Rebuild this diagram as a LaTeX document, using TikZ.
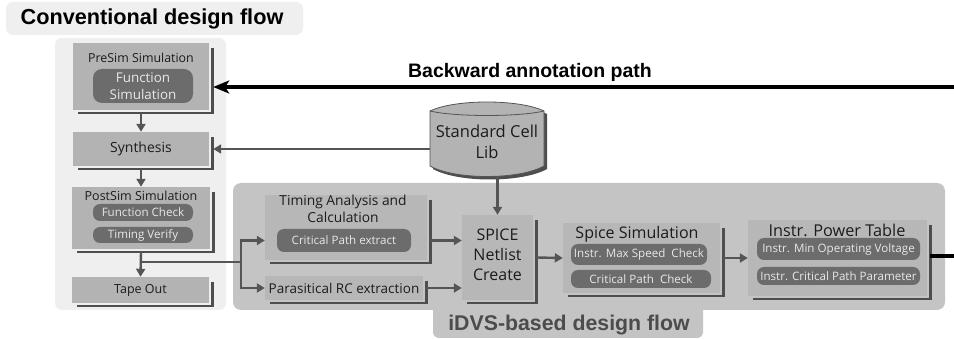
\documentclass[tikz,border=0pt]{standalone}
\usepackage{fontspec}
\setmainfont{Open Sans}
\newfontfamily\headfont{Liberation Sans}
\usetikzlibrary{arrows.meta}

\definecolor{panelA}{HTML}{EFEFEF}
\definecolor{panelB}{HTML}{C4C4C4}
\definecolor{boxA}{HTML}{B3B3B3}
\definecolor{boxB}{HTML}{B7B7B7}
\definecolor{pillgray}{HTML}{6C6C6C}
\definecolor{pilltext}{HTML}{E8E8E8}
\definecolor{shadegray}{HTML}{4E4E4E}
\definecolor{arrgray}{HTML}{555555}
\definecolor{labtext}{HTML}{1C1C1C}
\definecolor{tabtext}{HTML}{4C4C4C}

\newcommand\fsz[2]{\fontsize{#1}{#2}\selectfont}
% dark L-shaped edge along the right and bottom of a box
\newcommand\dropshade[1]{\draw[shadeline] ([xshift=3pt,yshift=-5pt]#1.north east) -- ([xshift=3pt,yshift=-3pt]#1.south east) -- ([xshift=5pt,yshift=-3pt]#1.south west);}

\tikzset{
  shadeline/.style={draw=shadegray, line width=2.6pt},
  cbox/.style={fill=boxA, draw=none, inner sep=0pt},
  ibox/.style={fill=boxB, draw=none, inner sep=0pt},
  pill/.style={fill=pillgray, text=pilltext, rounded corners=7pt, inner sep=0pt, font=\fsz{11.6}{14}},
  lab/.style={text=labtext, inner sep=0pt, align=center},
  arr/.style={draw=arrgray, line width=2.4pt, -{Triangle[length=8pt,width=9pt]}},
  plain/.style={draw=arrgray, line width=2.4pt},
  backarr/.style={draw=black, line width=3.4pt, -{Stealth[length=16pt,width=13pt,inset=4pt]}},
}

\begin{document}
\begin{tikzpicture}[x=1pt,y=-1pt]
\fill[white] (0,0) rectangle (954,339);
\useasboundingbox (0,0) rectangle (954,339);

% ---------- backgrounds ----------
\fill[panelA, rounded corners=7pt] (6,2) rectangle (303,35);
\node[inner sep=0pt, font=\headfont\bfseries\fsz{21.7}{24}] (convtitle) at (152,19) {Conventional design flow};
\fill[panelA, rounded corners=7pt] (55,38) rectangle (226,310);

\fill[panelB, rounded corners=8pt] (233,183) rectangle (945,310);
\fill[panelB, rounded corners=6pt] (433,300) rectangle (703,338);
\node[inner sep=0pt, text=tabtext, font=\headfont\bfseries\fsz{21.3}{24}] (idvstitle) at (569,325) {iDVS-based design flow};

% ---------- conventional flow ----------
\node[cbox, minimum width=136pt, minimum height=67pt] (presim) at (141,76.5) {};
\dropshade{presim}
\node[lab, font=\fsz{12.4}{15}] (presimt) at (141,58) {PreSim Simulation};
\node[pill, rounded corners=9pt, minimum width=100pt, minimum height=34pt, align=center, font=\fsz{13.4}{17}] (fsim) at (143,86) {Function\\Simulation};

\node[cbox, minimum width=136pt, minimum height=34pt] (syn) at (141,149) {};
\dropshade{syn}
\node[lab, font=\fsz{14}{16}] (synt) at (141,149) {Synthesis};

\node[cbox, minimum width=138pt, minimum height=62pt] (postsim) at (141,218) {};
\dropshade{postsim}
\node[lab, font=\fsz{12.5}{15}] (postsimt) at (141,196) {PostSim Simulation};
\node[pill, minimum width=100pt, minimum height=17pt] (fcheck) at (143,212.5) {Function Check};
\node[pill, minimum width=100pt, minimum height=16pt] (tverify) at (143,235) {Timing Verify};

\node[cbox, minimum width=137pt, minimum height=26pt] (tape) at (140.5,290) {};
\dropshade{tape}
\node[lab, font=\fsz{12.5}{15}] (tapet) at (140.5,290) {Tape Out};

% ---------- standard cell library ----------
\path[fill=shadegray] (433,114) .. controls (458,102) and (522,102) .. (547,114) -- (547,169) .. controls (522,183) and (458,183) .. (433,169) -- cycle;
\path[fill=boxA, draw=arrgray, line width=0.8pt] (430,111) .. controls (455,99) and (519,99) .. (544,111) -- (544,166) .. controls (519,180) and (455,180) .. (430,166) -- cycle;
\draw[arrgray, line width=0.8pt] (430,111) .. controls (455,117) and (519,117) .. (544,111);
\node[lab, minimum width=114pt, minimum height=68pt, font=\fsz{16.5}{21}] (lib) at (487,142) {Standard Cell\\Lib};

% ---------- iDVS flow ----------
\node[ibox, minimum width=162pt, minimum height=65pt] (timing) at (346,227.5) {};
\dropshade{timing}
\node[lab, font=\fsz{13.8}{17}] (timingt) at (343,209) {Timing Analysis and\\Calculation};
\node[pill, minimum width=134pt, minimum height=23pt] (cpe) at (344,240.5) {Critical Path extract};

\node[ibox, minimum width=158pt, minimum height=24pt] (para) at (344,288) {};
\dropshade{para}
\node[lab, font=\fsz{13.5}{16}] (parat) at (344,288) {Parasitical RC extraction};

\node[ibox, minimum width=71pt, minimum height=85pt] (spice) at (497.5,257.5) {};
\dropshade{spice}
\node[lab, font=\fsz{16}{20}] (spicet) at (497.5,255) {SPICE\\Netlist\\Create};

\node[ibox, minimum width=157pt, minimum height=70pt] (spsim) at (641.5,258) {};
\dropshade{spsim}
\node[lab, font=\fsz{16}{19}] (spsimt) at (637,234) {Spice Simulation};
\node[pill, minimum width=136pt, minimum height=21pt] (ims) at (639,254.5) {Instr. Max Speed\ \ Check};
\node[pill, minimum width=140pt, minimum height=18pt] (cpc) at (641,279) {Critical Path\ \ Check};

\node[ibox, minimum width=179pt, minimum height=76pt] (ptab) at (837.5,258) {};
\dropshade{ptab}
\node[lab, font=\fsz{16.3}{19}] (ptabt) at (837,230) {Instr. Power Table};
\node[pill, minimum width=163pt, minimum height=22pt] (mov) at (838.5,249) {Instr. Min Operating Voltage};
\node[pill, minimum width=163pt, minimum height=18pt] (cpp) at (838.5,276) {Instr. Critical Path Parameter};

% ---------- connectors ----------
\draw[arr] ([yshift=-3pt]presim.south) -- (syn.north);
\draw[arr] ([yshift=-3pt]syn.south) -- (postsim.north);
\draw[arr] ([yshift=-3pt]postsim.south) -- (tape.north);

\coordinate (br) at (241,262);
\draw[plain] (postsim.south |- br) -- (br);
\draw[arr] (br) |- (timing.west |- cpe);
\draw[arr] (br) |- (para.west);

\draw[arr] (lib.west |- syn) -- ([xshift=4pt]syn.east);
\draw[arr] (spice.north |- lib.south) -- (spice.north);
\draw[arr] ([xshift=3pt]timing.east |- cpe) -- (spice.west |- cpe);
\draw[arr] ([xshift=3pt]para.east) -- (spice.west |- para);
\draw[arr] ([xshift=3pt]spice.east) -- (spsim.west);
\draw[arr] ([xshift=3pt]spsim.east) -- (ptab.west);

\coordinate (outR) at (954,256);
\draw[black, line width=3.4pt] ([xshift=3pt]ptab.east |- outR) -- (outR);

\coordinate (inR) at (954,87);
\draw[backarr] (inR) -- ([xshift=4pt]presim.east |- inR);
\node[inner sep=0pt, font=\headfont\bfseries\fsz{19.5}{22}] (backlabel) at (530,72) {Backward annotation path};
\end{tikzpicture}
\end{document}
